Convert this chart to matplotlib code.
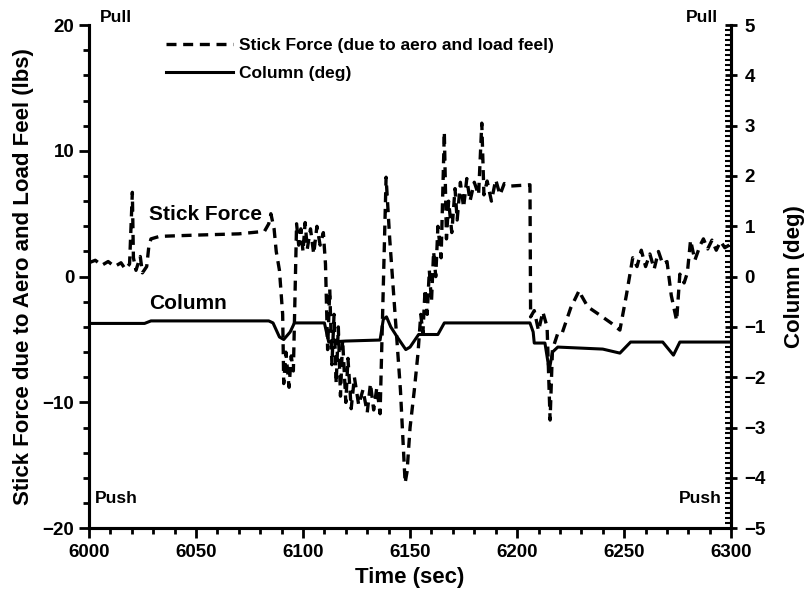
import matplotlib
matplotlib.use('Agg')
import matplotlib.pyplot as plt
from matplotlib.ticker import MultipleLocator

# stick force (lbs)
t_force = [6000, 6003, 6006, 6009, 6012, 6015, 6017, 6019, 6020.3, 6020.8, 6022, 6024,
           6025, 6027, 6028, 6029, 6033, 6050, 6070, 6082, 6084, 6085, 6086.5, 6087.5,
           6089, 6090.5, 6091, 6092, 6093.5, 6094.5, 6095.5, 6097, 6098, 6099, 6100,
           6101, 6102, 6103.5, 6105, 6106.5, 6108, 6109.5, 6110.5, 6111.5, 6112.5,
           6113.5, 6114.5, 6115.5, 6116.5, 6117.5, 6118.5, 6120, 6121, 6122.5, 6124,
           6126, 6128, 6130, 6131.5, 6133, 6134.5, 6136, 6138.8, 6140.5, 6143, 6145.5,
           6147.7, 6148.6, 6150, 6152, 6153.7, 6155, 6156, 6157, 6158, 6159, 6160,
           6161, 6162, 6163, 6164.5, 6166, 6167, 6168, 6169.5, 6171, 6172, 6173.5,
           6175, 6176.5, 6178, 6180, 6182, 6183.5, 6184.5, 6186, 6188, 6190, 6192,
           6194, 6197, 6206, 6206.3, 6208, 6210, 6212, 6214, 6215.4, 6216.5, 6219,
           6221, 6225, 6229, 6230, 6233, 6239, 6244, 6248, 6251, 6254, 6256, 6258,
           6260, 6262, 6264, 6266, 6268, 6270, 6272, 6274.5, 6276, 6278, 6279.5,
           6281, 6283, 6285.5, 6287, 6289, 6291, 6293, 6295, 6297, 6300]
stick_force = [1.1, 1.3, 0.9, 1.2, 0.8, 1.1, 0.6, 1.0, 6.7, 1.5, 0.5, 1.6,
               0.3, 0.8, 2.4, 3.0, 3.2, 3.3, 3.4, 3.6, 4.2, 5.0, 3.8, 2.0,
               0.5, -3.0, -8.5, -6.0, -8.8, -6.3, -7.5, 4.2, 2.5, 3.8, 2.0,
               4.3, 2.2, 3.8, 1.8, 4.0, 2.5, 3.5, 1.0, -5.8, -1.0,
               -7.0, -3.0, -8.5, -4.0, -9.5, -5.0, -10.0, -6.5, -10.5, -8.0,
               -10.2, -9.0, -10.8, -8.5, -10.6, -8.8, -10.9, 7.9, 3.0, -3.0, -9.0,
               -16.4, -15.5, -12.0, -9.0, -6.1, -3.0, -4.5, -1.0, -3.0, 0.5, -2.0,
               2.0, 0.0, 4.0, 1.5, 11.5, 3.0, 6.0, 3.5, 7.0, 4.5, 7.5,
               5.5, 7.8, 6.0, 7.5, 6.5, 12.2, 6.5, 7.6, 6.0, 7.7, 6.5,
               7.4, 7.2, 7.3, -3.2, -2.7, -4.3, -2.8, -4.0, -11.4, -5.8, -4.5,
               -4.5, -2.5, -1.1, -1.5, -2.4, -3.1, -3.7, -4.25, -1.5, 1.5, 0.8, 2.1,
               0.8, 1.8, 0.6, 2.0, 1.0, 1.2, -1.5, -3.5, 0.2, -0.5, 0.3,
               2.9, 1.3, 2.5, 3.0, 2.2, 2.9, 2.1, 2.8, 2.3, 2.6]

# column position (deg)
t_column = [6000, 6026, 6029, 6084, 6086, 6089, 6091, 6094, 6096, 6110, 6112, 6120,
            6136, 6137.5, 6139, 6141, 6144, 6148, 6150, 6154, 6163, 6166, 6206,
            6207.5, 6208, 6213, 6215, 6216.5, 6219, 6240, 6248, 6253, 6263, 6268,
            6273, 6276, 6300]
column_deg = [-0.93, -0.93, -0.88, -0.88, -0.92, -1.2, -1.25, -1.1, -0.92, -0.92, -1.3, -1.28,
              -1.26, -0.85, -0.8, -1.0, -1.2, -1.45, -1.4, -1.15, -1.15, -0.92, -0.92,
              -1.1, -1.32, -1.32, -1.86, -1.5, -1.4, -1.44, -1.52, -1.3, -1.3, -1.3,
              -1.56, -1.3, -1.3]

font = ['Liberation Sans', 'DejaVu Sans']

fig = plt.figure(figsize=(8.08, 6.03), dpi=100)
ax = fig.add_axes([0.110, 0.124, 0.795, 0.8345])
ax2 = ax.twinx()

ax.plot(t_force, stick_force, color='black', lw=2.4, ls=(0, (3, 2)),
        label='Stick Force (due to aero and load feel)')
ax2.plot(t_column, column_deg, color='black', lw=2.2, label='Column (deg)')

ax.set_xlim(6000, 6300)
ax.set_ylim(-20, 20)
ax2.set_ylim(-5, 5)

ax.xaxis.set_major_locator(MultipleLocator(50))
ax.xaxis.set_minor_locator(MultipleLocator(10))
ax.yaxis.set_major_locator(MultipleLocator(10))
ax.yaxis.set_minor_locator(MultipleLocator(2))
ax2.yaxis.set_major_locator(MultipleLocator(1))
ax2.yaxis.set_minor_locator(MultipleLocator(0.1))

ax.tick_params(axis='x', which='major', direction='out', length=7, width=2, pad=4)
ax.tick_params(axis='x', which='minor', direction='out', length=4, width=2)
ax.tick_params(axis='y', which='major', direction='out', length=7, width=2)
ax.tick_params(axis='y', which='minor', direction='out', length=4, width=2)
ax2.tick_params(axis='y', which='major', direction='inout', length=9, width=2, pad=5)
ax2.tick_params(axis='y', which='minor', direction='in', length=4, width=1.5)

for a in (ax, ax2):
    for s in a.spines.values():
        s.set_linewidth(2.2)
    a.spines['top'].set_visible(False)
    for lab in a.get_xticklabels() + a.get_yticklabels():
        lab.set_family(font)
        lab.set_fontweight('bold')
        lab.set_fontsize(13.5)

ax.set_xlabel('Time (sec)', family=font, fontweight='bold', fontsize=16, labelpad=5)
ax.set_ylabel('Stick Force due to Aero and Load Feel (lbs)', family=font,
              fontweight='bold', fontsize=16, labelpad=6)
ax2.set_ylabel('Column (deg)', family=font, fontweight='bold', fontsize=16, labelpad=13)

txt = dict(family=font, fontweight='bold', color='black')
ax.text(6028, 4.5, 'Stick Force', fontsize=15, **txt)
ax.text(6028, -2.6, 'Column', fontsize=15, **txt)
ax.text(0.017, 1.0, 'Pull', transform=ax.transAxes, va='bottom', fontsize=12.5, **txt)
ax.text(0.98, 1.0, 'Pull', transform=ax.transAxes, va='bottom', ha='right',
        fontsize=12.5, **txt)
ax.text(0.01, 0.045, 'Push', transform=ax.transAxes, va='bottom', fontsize=12.5, **txt)
ax.text(0.985, 0.045, 'Push', transform=ax.transAxes, va='bottom', ha='right',
        fontsize=12.5, **txt)

h1, l1 = ax.get_legend_handles_labels()
h2, l2 = ax2.get_legend_handles_labels()
leg = ax.legend(h1 + h2, l1 + l2, loc='upper left', bbox_to_anchor=(0.095, 1.005),
                frameon=False, handlelength=3.9, handletextpad=0.35, labelspacing=0.75,
                prop={'family': font, 'weight': 'bold', 'size': 12.5})

fig.savefig('out.png', dpi=100)
